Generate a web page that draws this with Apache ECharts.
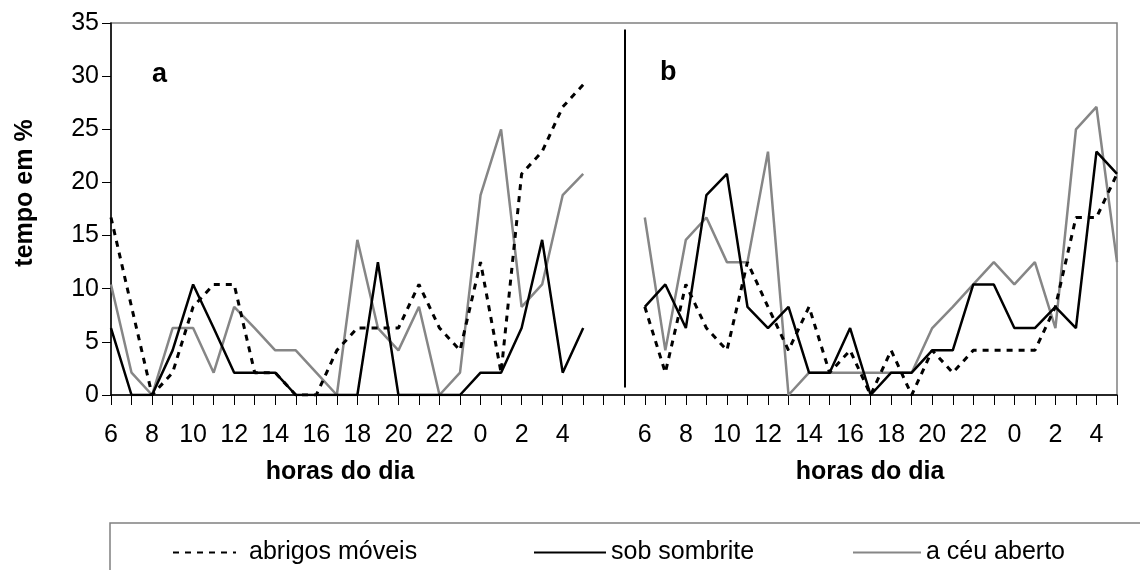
<!DOCTYPE html>
<html>
<head>
<meta charset="utf-8">
<script src="https://cdn.jsdelivr.net/npm/echarts@6/dist/echarts.min.js"></script>
<style>
  html, body { margin: 0; padding: 0; background: #fff; }
  #chart { width: 1140px; height: 570px; }
</style>
</head>
<body>
<div id="chart"></div>
<script>
// hours of the day, one panel each (a and b), with two empty slots in between
const horas = ['6','7','8','9','10','11','12','13','14','15','16','17','18','19','20','21','22','23','0','1','2','3','4','5'];
const vazio = [' ', '  '];

// panel a
const abrigosA  = [16.7, 8.3, 0, 2.1, 8.3, 10.4, 10.4, 2.1, 2.1, 0, 0, 4.2, 6.3, 6.3, 6.3, 10.4, 6.3, 4.2, 12.5, 2.1, 20.8, 22.9, 27.1, 29.2];
const sombriteA = [6.3, 0, 0, 4.2, 10.4, 6.3, 2.1, 2.1, 2.1, 0, 0, 0, 0, 12.5, 0, 0, 0, 0, 2.1, 2.1, 6.3, 14.6, 2.1, 6.3];
const ceuA      = [10.4, 2.1, 0, 6.3, 6.3, 2.1, 8.3, 6.3, 4.2, 4.2, 2.1, 0, 14.6, 6.3, 4.2, 8.3, 0, 2.1, 18.8, 25.0, 8.3, 10.4, 18.8, 20.8];

// panel b
const abrigosB  = [8.3, 2.1, 10.4, 6.3, 4.2, 12.5, 8.3, 4.2, 8.3, 2.1, 4.2, 0, 4.2, 0, 4.2, 2.1, 4.2, 4.2, 4.2, 4.2, 8.3, 16.7, 16.7, 20.8];
const sombriteB = [8.3, 10.4, 6.3, 18.8, 20.8, 8.3, 6.3, 8.3, 2.1, 2.1, 6.3, 0, 2.1, 2.1, 4.2, 4.2, 10.4, 10.4, 6.3, 6.3, 8.3, 6.3, 22.9, 20.8];
const ceuB      = [16.7, 4.2, 14.6, 16.7, 12.5, 12.5, 22.9, 0, 2.1, 2.1, 2.1, 2.1, 2.1, 2.1, 6.3, 8.3, 10.4, 12.5, 10.4, 12.5, 6.3, 25.0, 27.1, 12.5];

const yTicks = [0, 5, 10, 15, 20, 25, 30, 35];

const FONT = "'Liberation Sans', Arial, sans-serif";
const GRAY = '#868686';

const categorias = horas.concat(vazio, horas);
const junta = (a, b) => a.concat([null, null], b);

const chart = echarts.init(document.getElementById('chart'));

const legendBase = {
  top: 540,
  padding: 0,
  itemHeight: 24,
  itemGap: 0,
  selectedMode: false,
  itemStyle: { opacity: 0 },
  textStyle: { fontSize: 25, fontFamily: FONT, color: '#000' }
};

const option = {
  animation: false,
  backgroundColor: '#fff',
  grid: {
    left: 111, right: 23, top: 23, bottom: 175,
    show: true, borderColor: '#808080', borderWidth: 1.5
  },
  xAxis: {
    type: 'category',
    data: categorias,
    boundaryGap: false,
    axisLine: { lineStyle: { color: '#000', width: 1.5 } },
    axisTick: { interval: 0, length: 10, lineStyle: { color: '#000' } },
    axisLabel: { interval: 1, margin: 28, fontSize: 25, fontFamily: FONT, color: '#000' },
    splitLine: { show: false }
  },
  yAxis: {
    type: 'value',
    min: yTicks[0],
    max: yTicks[yTicks.length - 1],
    interval: 5,
    axisLine: { show: true, lineStyle: { color: '#000', width: 1.5 } },
    axisTick: { show: true, length: 9, lineStyle: { color: '#000' } },
    axisLabel: { margin: 12, fontSize: 25, fontFamily: FONT, color: '#000' },
    splitLine: { show: false }
  },
  legend: [
    Object.assign({}, legendBase, { left: 172, itemWidth: 63, data: ['abrigos móveis'],
      textStyle: Object.assign({}, legendBase.textStyle, { padding: [0, 0, 0, 8] }) }),
    Object.assign({}, legendBase, { left: 533, itemWidth: 72, data: ['sob sombrite'] }),
    Object.assign({}, legendBase, { left: 852, itemWidth: 68, data: ['a céu aberto'] })
  ],
  series: [
    {
      name: 'abrigos móveis',
      type: 'line',
      data: junta(abrigosA, abrigosB),
      symbol: 'none',
      lineStyle: { color: '#000', width: 3, type: [6, 6] },
      itemStyle: { color: '#000' },
      z: 3,
      markLine: {
        silent: true,
        symbol: 'none',
        label: { show: false },
        lineStyle: { color: '#000', width: 2, type: 'solid' },
        data: [[{ coord: [25, 34.4] }, { coord: [25, 0.7] }]]
      }
    },
    {
      name: 'sob sombrite',
      type: 'line',
      data: junta(sombriteA, sombriteB),
      symbol: 'none',
      lineStyle: { color: '#000', width: 2.5 },
      itemStyle: { color: '#000' },
      z: 4
    },
    {
      name: 'a céu aberto',
      type: 'line',
      data: junta(ceuA, ceuB),
      symbol: 'none',
      lineStyle: { color: GRAY, width: 2.5 },
      itemStyle: { color: GRAY },
      z: 2
    }
  ],
  graphic: [
    {
      type: 'rect', z: -1,
      shape: { x: 110, y: 523, width: 1060, height: 80 },
      style: { fill: 'none', stroke: '#808080', lineWidth: 1.5 }
    },
    {
      type: 'text', x: 25, y: 193, rotation: Math.PI / 2,
      style: { text: 'tempo em %', font: 'bold 25px ' + FONT, fill: '#000', textAlign: 'center', textVerticalAlign: 'middle' }
    },
    {
      type: 'text', x: 340, y: 472,
      style: { text: 'horas do dia', font: 'bold 25px ' + FONT, fill: '#000', textAlign: 'center', textVerticalAlign: 'middle' }
    },
    {
      type: 'text', x: 870, y: 472,
      style: { text: 'horas do dia', font: 'bold 25px ' + FONT, fill: '#000', textAlign: 'center', textVerticalAlign: 'middle' }
    },
    {
      type: 'text', x: 152, y: 75,
      style: { text: 'a', font: 'bold 27px ' + FONT, fill: '#000', textAlign: 'left', textVerticalAlign: 'middle' }
    },
    {
      type: 'text', x: 660, y: 73,
      style: { text: 'b', font: 'bold 27px ' + FONT, fill: '#000', textAlign: 'left', textVerticalAlign: 'middle' }
    }
  ]
};

chart.setOption(option);
</script>
</body>
</html>
